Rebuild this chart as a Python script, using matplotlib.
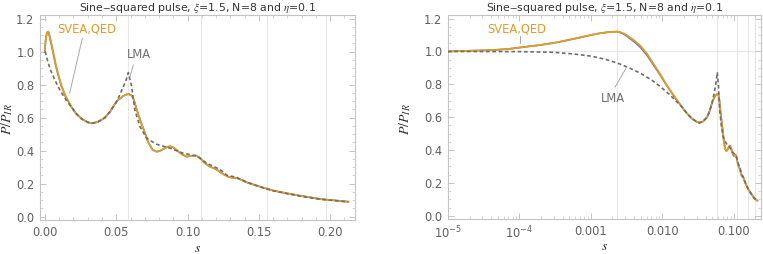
import matplotlib
matplotlib.use("Agg")
import matplotlib.pyplot as plt
from matplotlib.ticker import FixedLocator, FixedFormatter, MultipleLocator
import numpy as np

plt.rcParams['font.family'] = ['DejaVu Sans']
plt.rcParams['mathtext.fontset'] = 'stix'

# photon energy fraction s and spectra ratio P/P_IR
s_svea = [1e-5, 2e-5, 4e-5, 7e-5, 1.1e-4, 2e-4, 3.3e-4, 5e-4, 7e-4, 1.0e-3,
          1.3e-3, 1.7e-3, 2.1e-3, 2.4e-3, 2.8e-3, 3.2e-3, 4.0e-3, 4.9e-3,
          6.0e-3, 7.5e-3, 9.3e-3, 0.0115, 0.0142, 0.0185, 0.0218, 0.0255,
          0.0300, 0.0330, 0.0370, 0.0419, 0.0456, 0.0503, 0.0550, 0.0575,
          0.0592, 0.0610, 0.0625, 0.0643, 0.0670, 0.0700, 0.0725, 0.0755,
          0.0784, 0.0810, 0.0850, 0.0877, 0.0900, 0.0924, 0.0960, 0.0994,
          0.1030, 0.1060, 0.1088, 0.1120, 0.1158, 0.1200, 0.1250, 0.1290,
          0.1320, 0.1345, 0.1380, 0.1415, 0.1509, 0.1602, 0.1696, 0.1790,
          0.1930, 0.2128]
p_svea = [1.000, 1.004, 1.008, 1.015, 1.026, 1.040, 1.055, 1.071, 1.085, 1.100,
          1.110, 1.117, 1.120, 1.121, 1.112, 1.098, 1.068, 1.035,
          0.990, 0.925, 0.862, 0.795, 0.735, 0.665, 0.625, 0.594,
          0.572, 0.566, 0.574, 0.598, 0.635, 0.700, 0.732, 0.741,
          0.742, 0.732, 0.705, 0.650, 0.580, 0.510, 0.450, 0.405,
          0.394, 0.400, 0.420, 0.427, 0.420, 0.404, 0.378, 0.364,
          0.368, 0.370, 0.356, 0.325, 0.303, 0.288, 0.258, 0.240,
          0.236, 0.234, 0.222, 0.208, 0.182, 0.158, 0.142, 0.127,
          0.107, 0.091]

# full QED result, only a shade apart from SVEA (on the same s grid)
p_qed = [1.000, 1.004, 1.008, 1.015, 1.026, 1.040, 1.055, 1.071, 1.085, 1.100,
         1.110, 1.117, 1.120, 1.120, 1.108, 1.092, 1.060, 1.025,
         0.980, 0.917, 0.856, 0.792, 0.733, 0.665, 0.625, 0.594,
         0.572, 0.566, 0.574, 0.598, 0.635, 0.700, 0.732, 0.741,
         0.742, 0.732, 0.705, 0.650, 0.580, 0.510, 0.450, 0.405,
         0.394, 0.400, 0.420, 0.427, 0.420, 0.404, 0.378, 0.364,
         0.368, 0.370, 0.356, 0.325, 0.303, 0.288, 0.258, 0.240,
         0.236, 0.234, 0.222, 0.208, 0.182, 0.158, 0.142, 0.127,
         0.107, 0.091]

s_lma = [1e-5, 1e-4, 3e-4, 5.6e-4, 1.0e-3, 1.66e-3, 2.5e-3, 3.5e-3, 4.9e-3,
         7.3e-3, 0.0100, 0.0126, 0.0150, 0.0185, 0.0218, 0.0255, 0.0300,
         0.0330, 0.0370, 0.0419, 0.0456, 0.0503, 0.0550, 0.0570, 0.0585,
         0.0608, 0.0630, 0.0667, 0.0713, 0.0780, 0.0877, 0.0970, 0.1065,
         0.1135, 0.1230, 0.1275, 0.1345, 0.1415, 0.1509, 0.1602, 0.1696,
         0.1790, 0.1930, 0.2128]
p_lma = [1.000, 0.999, 0.995, 0.985, 0.972, 0.950, 0.925, 0.898, 0.868,
         0.822, 0.775, 0.737, 0.705, 0.665, 0.625, 0.594, 0.572,
         0.566, 0.574, 0.600, 0.636, 0.697, 0.788, 0.830, 0.873,
         0.788, 0.647, 0.545, 0.475, 0.440, 0.415, 0.384, 0.368,
         0.324, 0.285, 0.252, 0.238, 0.210, 0.180, 0.157, 0.140,
         0.125, 0.106, 0.089]

# harmonic edges shown as grid lines
edges = [0.058, 0.1096, 0.1558, 0.1975]

ORANGE = '#E09C24'
BLUE = '#5E81B5'
GRAY = '#6E6E6E'
FRAME = '#C4C4C4'
GRID = '#E8E8E8'
TXT = '#606060'

title = r'Sine$-$squared pulse, $\xi$=1.5, N=8 and $\eta$=0.1'

fig = plt.figure(figsize=(7.63, 2.54), dpi=100)
ax1 = fig.add_axes([40/763, 34/254, 315/763, 205/254])
ax2 = fig.add_axes([448/763, 35/254, 313/763, 204/254])


def style(ax, ylab_x):
    for sp in ax.spines.values():
        sp.set_color(FRAME)
        sp.set_linewidth(0.8)
    ax.tick_params(which='both', direction='in', top=True, right=True,
                   color=FRAME, labelcolor=TXT, labelsize=8.3)
    ax.tick_params(which='major', length=4, width=0.7, pad=4)
    ax.tick_params(which='minor', length=2, width=0.5)
    ax.set_ylim(-0.02, 1.222)
    ax.yaxis.set_major_locator(MultipleLocator(0.2))
    ax.yaxis.set_minor_locator(MultipleLocator(0.05))
    ax.yaxis.set_major_formatter(matplotlib.ticker.FormatStrFormatter('%.1f'))
    for e in edges:
        ax.axvline(e, color=GRID, lw=0.8, zorder=0)
    ax.set_title(title, fontsize=7.8, color='#333333', pad=3)
    ax.set_xlabel(r'$s$', fontsize=10, color='#333333')
    ax.xaxis.set_label_coords(0.5, -0.1)
    ax.set_ylabel(r'$P/P_{IR}$', fontsize=10, color='#333333')
    ax.yaxis.set_label_coords(ylab_x, 0.49)


def curves(ax):
    ax.plot(s_svea, p_qed, color=BLUE, lw=1.2, zorder=2)
    ax.plot(s_svea, p_svea, color=ORANGE, lw=1.3, zorder=3)
    ax.plot(s_lma, p_lma, color=GRAY, lw=1.2, ls=(0, (2.2, 1.6)), zorder=4)


# left: linear axis
style(ax1, -0.078)
curves(ax1)
ax1.set_xlim(-0.0035, 0.2175)
ax1.xaxis.set_major_locator(MultipleLocator(0.05))
ax1.xaxis.set_minor_locator(MultipleLocator(0.01))
ax1.xaxis.set_major_formatter(matplotlib.ticker.FormatStrFormatter('%.2f'))
ax1.text(0.0295, 1.137, 'SVEA,QED', color=ORANGE, fontsize=8.3, ha='center', va='center')
ax1.plot([0.0262, 0.0173], [1.081, 0.748], color='#A8A8A8', lw=0.7, zorder=5)
ax1.text(0.0656, 0.98, 'LMA', color=GRAY, fontsize=8.3, ha='center', va='center')
ax1.plot([0.062, 0.0596], [0.919, 0.848], color='#A8A8A8', lw=0.7, zorder=5)

# right: log axis
style(ax2, -0.112)
ax2.axvline(0.0023, color=GRID, lw=0.8, zorder=0)
ax2.axhline(1.0, color=GRID, lw=0.8, zorder=0)
curves(ax2)
ax2.set_xscale('log')
ax2.set_xlim(1e-5, 0.239)
major = [1e-5, 1e-4, 1e-3, 1e-2, 1e-1]
ax2.xaxis.set_major_locator(FixedLocator(major))
ax2.xaxis.set_major_formatter(FixedFormatter([r'$\mathregular{10^{-5}}$', r'$\mathregular{10^{-4}}$',
                                              '0.001', '0.010', '0.100']))
minor = [m * d for d in major for m in range(2, 10)]
ax2.xaxis.set_minor_locator(FixedLocator(minor))
ax2.xaxis.set_minor_formatter(matplotlib.ticker.NullFormatter())
ax2.text(9.2e-5, 1.136, 'SVEA,QED', color=ORANGE, fontsize=8.3, ha='center', va='center')
ax2.plot([1.01e-4, 1.01e-4], [1.095, 1.051], color='#A8A8A8', lw=0.7, zorder=5)
ax2.text(2.0e-3, 0.716, 'LMA', color=GRAY, fontsize=8.3, ha='center', va='center')
ax2.plot([2.17e-3, 3.16e-3], [0.783, 0.905], color='#A8A8A8', lw=0.7, zorder=5)

fig.savefig('out.png', dpi=100)
